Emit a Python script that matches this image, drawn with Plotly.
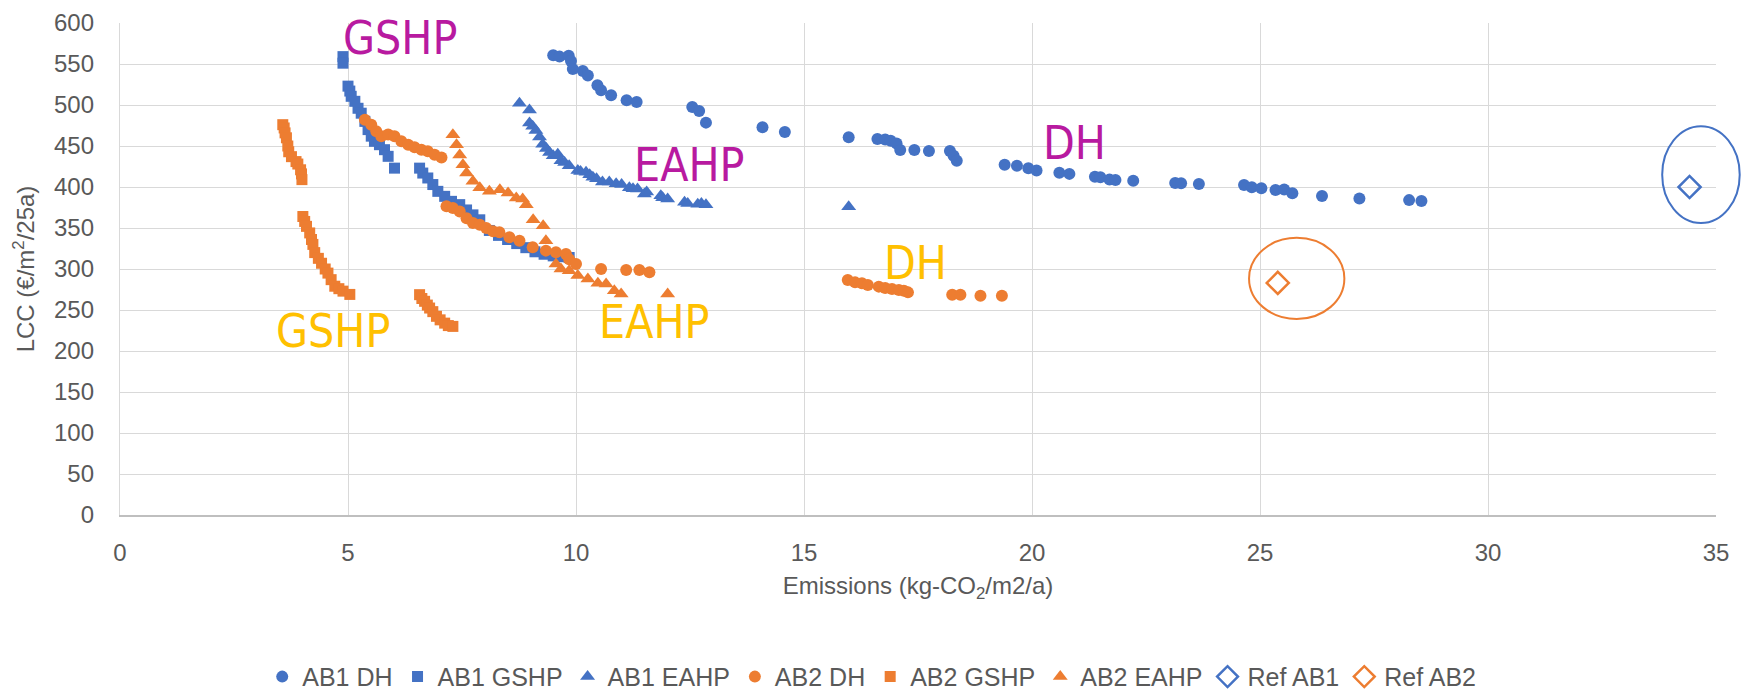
import plotly.graph_objects as go

# ---------------- data ----------------
ab1_dh_x = [9.50, 9.64, 9.84, 9.89, 9.93, 10.15, 10.26, 10.47, 10.55, 10.77, 11.11, 11.33, 12.55, 12.70, 12.85,
            14.09, 14.58, 15.98, 16.61, 16.78, 16.90, 17.03, 17.11, 17.42, 17.74, 18.20, 18.28, 18.35, 19.40,
            19.67, 19.92, 20.10, 20.60, 20.82, 21.38, 21.50, 21.70, 21.83, 22.22, 23.14, 23.27, 23.66, 24.65,
            24.82, 25.03, 25.34, 25.53, 25.71, 26.36, 27.18, 28.27, 28.54]
ab1_dh_y = [560.6, 559, 560, 553.7, 544, 541.5, 536, 524, 518, 512, 505.7, 503.7, 497.6, 492.7, 478.5,
            473, 467, 460.6, 458.5, 458, 456.5, 453, 445, 445, 444, 444, 438, 432, 427,
            426, 423, 420, 417.5, 416, 412.6, 412, 409, 408.5, 407.7, 405, 404.5, 403.7, 402.4,
            399.6, 398.4, 396.3, 397, 392.3, 389, 386, 384, 383]

ab1_gshp_x = [4.89, 4.89, 5.00, 5.04, 5.07, 5.15, 5.22, 5.29, 5.37, 5.44, 5.51, 5.58, 5.69, 5.80, 5.88, 6.02,
              6.57, 6.64, 6.75, 6.86, 6.97, 7.12, 7.27, 7.45, 7.60, 7.74, 7.89, 8.10, 8.30, 8.50, 8.70, 8.90,
              9.10, 9.30, 9.50, 9.70, 9.85]
ab1_gshp_y = [559, 551, 523, 517, 510.6, 504.5, 496, 490, 480, 470, 462, 455.7, 451.6, 445.5, 437.4, 423,
              423, 417, 411, 403, 394.7, 388.6, 382.5, 378.5, 372, 366, 360, 347, 341, 336, 331, 326,
              321, 318, 316, 315, 314]

ab1_eahp_x = [8.76, 8.98, 8.98, 9.05, 9.12, 9.20, 9.27, 9.35, 9.42, 9.50, 9.60, 9.67, 9.75, 9.85, 10.04, 10.10,
              10.22, 10.30, 10.37, 10.45, 10.58, 10.73, 10.88, 11.00, 11.17, 11.25, 11.35, 11.50, 11.55, 11.86,
              11.90, 12.01, 12.38, 12.45, 12.67, 12.75, 12.85, 15.98]
ab1_eahp_y = [502, 494, 478, 474, 469, 461, 452, 447, 442, 438, 440, 432, 430, 426, 420, 419,
              418, 415, 412, 410, 406, 406, 404, 403, 399, 398, 397.6, 391.5, 394, 389.4,
              387, 385.4, 381.3, 380, 379, 380, 378.5, 376]

ab2_dh_x = [5.37, 5.51, 5.62, 5.73, 5.88, 6.02, 6.17, 6.32, 6.46, 6.61, 6.75, 6.90, 7.05,
            7.16, 7.30, 7.45, 7.60, 7.74, 7.89, 8.03, 8.18, 8.32, 8.54, 8.76, 9.05, 9.34, 9.56, 9.78, 9.85,
            10.00, 10.55, 11.10, 11.39, 11.61,
            15.96, 16.12, 16.27, 16.40, 16.64, 16.78, 16.93, 17.08, 17.19, 17.28, 18.25, 18.43, 18.87, 19.34]
ab2_dh_y = [482, 476, 468, 462, 464, 462, 455.7, 451.6, 448.4, 445.5, 443.5, 439.4, 436,
            376.4, 374.4, 370, 362, 356, 354, 350, 346, 344.7, 338.6, 334.5, 326.4, 322.4, 320.3, 318.3, 312,
            306, 300, 298.8, 298.8, 296,
            286.6, 283.7, 282.5, 280.5, 278.5, 276.8, 275.6, 274.4, 273.6, 271.5, 268.7, 268.7, 267.5, 267.5]

ab2_gshp_x = [3.57, 3.60, 3.62, 3.65, 3.68, 3.70, 3.76, 3.86, 3.90, 3.96, 3.98, 3.99,
              4.01, 4.05, 4.09, 4.16, 4.20, 4.23, 4.27, 4.35, 4.42, 4.50, 4.56, 4.63, 4.71, 4.80, 4.89, 5.04,
              6.57, 6.62, 6.68, 6.74, 6.79, 6.86, 6.94, 7.02, 7.12, 7.20, 7.30]
ab2_gshp_y = [476, 472, 466, 460, 450, 443, 437, 431, 428, 421, 416, 409,
              364, 358, 352, 344, 336, 330, 320, 313, 307, 300, 295, 287, 279, 276, 273, 269,
              268.7, 264, 260.6, 256, 252.4, 248, 242.3, 238, 234, 231, 230]

ab2_eahp_x = [7.30, 7.38, 7.45, 7.52, 7.60, 7.74, 7.89, 8.10, 8.33, 8.51, 8.69, 8.83, 8.91, 9.06, 9.28, 9.34,
              9.56, 9.67, 9.85, 10.04, 10.26, 10.48, 10.66, 10.84, 10.99, 12.01]
ab2_eahp_y = [463.8, 451.6, 439, 427, 417, 407, 399, 394.7, 396.7, 392.7, 386.6, 385.4, 378.5, 360, 352.8, 334.5,
              306, 300, 298, 292, 287.8, 282.5, 281.7, 273.6, 269.5, 269.5]

ref_ab1_x = [34.42]
ref_ab1_y = [400]
ref_ab2_x = [25.39]
ref_ab2_y = [283]

# text labels placed in the plot
label_text = ["GSHP", "EAHP", "DH", "GSHP", "EAHP", "DH"]
label_x = [6.15, 12.49, 20.94, 4.68, 11.72, 17.44]
label_y = [582, 427, 454, 224, 235, 307]
label_group = ["AB1", "AB1", "AB1", "AB2", "AB2", "AB2"]

# rings drawn around the reference cases (data units: x0, x1, y0, y1)
ring_bounds = [(33.82, 35.52, 356, 474), (24.76, 26.85, 239, 338)]

x_ticks = [0, 5, 10, 15, 20, 25, 30, 35]
y_ticks = [0, 50, 100, 150, 200, 250, 300, 350, 400, 450, 500, 550, 600]
X_MAX = 35
Y_MAX = 600

# ---------------- styling ----------------
BLUE = "#4472C4"
ORANGE = "#ED7D31"
MAGENTA = "#B81AA0"
YELLOW = "#FFC000"
GREY = "#595959"
FONT = "Liberation Sans, Arial, sans-serif"
NARROW = "DejaVu Sans Condensed, Liberation Sans Narrow, Liberation Sans, sans-serif"

fig = go.Figure()

def add(name, xs, ys, color, symbol, size, lw=0):
    fig.add_trace(go.Scatter(x=xs, y=ys, mode="markers", name=name,
                             marker=dict(symbol=symbol, size=size, color=color,
                                         line=dict(color=color, width=lw)),
                             cliponaxis=False))

add("AB1 DH", ab1_dh_x, ab1_dh_y, BLUE, "circle", 12)
add("AB1 GSHP", ab1_gshp_x, ab1_gshp_y, BLUE, "square", 11)
add("AB1 EAHP", ab1_eahp_x, ab1_eahp_y, BLUE, "triangle-up", 13)
add("AB2 DH", ab2_dh_x, ab2_dh_y, ORANGE, "circle", 12)
add("AB2 GSHP", ab2_gshp_x, ab2_gshp_y, ORANGE, "square", 11)
add("AB2 EAHP", ab2_eahp_x, ab2_eahp_y, ORANGE, "triangle-up", 13)
add("Ref AB1", ref_ab1_x, ref_ab1_y, BLUE, "diamond-open", 17, lw=2.5)
add("Ref AB2", ref_ab2_x, ref_ab2_y, ORANGE, "diamond-open", 17, lw=2.5)

for t, x, y, g in zip(label_text, label_x, label_y, label_group):
    fig.add_annotation(x=x, y=y, xref="x", yref="y", text=t, showarrow=False,
                       xanchor="center", yanchor="middle",
                       font=dict(family=NARROW, size=46, color=MAGENTA if g == "AB1" else YELLOW))

for (x0, x1, y0, y1), col in zip(ring_bounds, [BLUE, ORANGE]):
    fig.add_shape(type="circle", xref="paper", yref="paper",
                  x0=x0 / X_MAX, x1=x1 / X_MAX, y0=y0 / Y_MAX, y1=y1 / Y_MAX,
                  line=dict(color=col, width=2), fillcolor="rgba(0,0,0,0)")

fig.update_layout(
    width=1744, height=692,
    margin=dict(l=120, r=28, t=23, b=177, autoexpand=False),
    paper_bgcolor="white", plot_bgcolor="white",
    font=dict(family=FONT, size=24, color=GREY),
    showlegend=True,
    legend=dict(orientation="h", x=0.471, xanchor="center", y=-0.329, yanchor="middle",
                font=dict(family=FONT, size=25, color=GREY), itemwidth=30,
                bgcolor="rgba(0,0,0,0)"),
)
fig.update_xaxes(range=[0, X_MAX], tickvals=x_ticks, ticktext=[str(v) for v in x_ticks],
                 showgrid=True, gridcolor="#D9D9D9", gridwidth=1.3, zeroline=False, automargin=False,
                 showline=True, linecolor="#BFBFBF", linewidth=1.5, ticks="",
                 tickfont=dict(family=FONT, size=24, color=GREY), ticklabelstandoff=15,
                 title=dict(text="Emissions (kg-CO<sub>2</sub>/m2/a)", standoff=13,
                            font=dict(family=FONT, size=24, color=GREY)))
fig.update_yaxes(range=[0, Y_MAX], tickvals=y_ticks, ticktext=[str(v) for v in y_ticks],
                 showgrid=True, gridcolor="#D9D9D9", gridwidth=1.3, zeroline=False, automargin=False,
                 showline=True, linecolor="#D9D9D9", linewidth=1.3, ticks="",
                 tickfont=dict(family=FONT, size=24, color=GREY), ticklabelstandoff=20,
                 title=dict(text="LCC (€/m<sup>2</sup>/25a)", standoff=12,
                            font=dict(family=FONT, size=24, color=GREY)))

fig.write_html("out.html", config={"displayModeBar": False},
               post_script="document.body.style.margin='0px';document.body.style.overflow='hidden';")
